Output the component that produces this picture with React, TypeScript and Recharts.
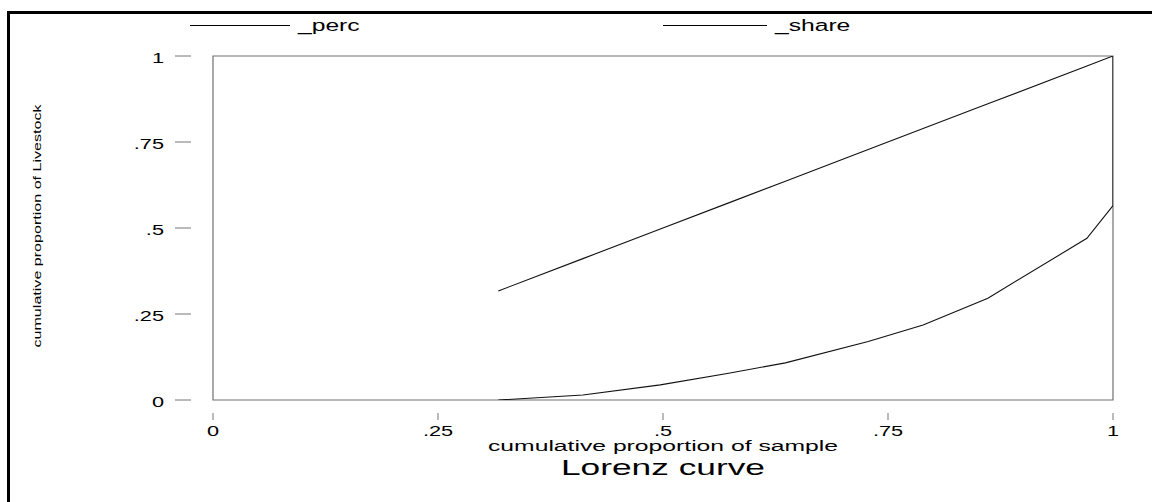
import React from 'react';
import { LineChart, Line, XAxis, YAxis, ReferenceArea, Legend, Label } from 'recharts';

// ---- data ----
const sampleProportion = [0.317, 0.411, 0.497, 0.573, 0.636, 0.728, 0.789, 0.861, 0.971, 1, 1];
const percValues = [0.317, 0.411, 0.497, 0.573, 0.636, 0.728, 0.789, 0.861, 0.971, 1, 1];
const shareValues = [0, 0.0145, 0.044, 0.078, 0.108, 0.17, 0.218, 0.296, 0.47, 0.565, 1];
const xTicks = [0, 0.25, 0.5, 0.75, 1];
const xTickLabels = ['0', '.25', '.5', '.75', '1'];
const yTicks = [0, 0.25, 0.5, 0.75, 1];
const yTickLabels = ['0', '.25', '.5', '.75', '1'];
const seriesKeys = ['_perc', '_share'];
const xTitle = 'cumulative proportion of sample';
const yTitle = 'cumulative proportion of Livestock';
const chartTitle = 'Lorenz curve';

const data = sampleProportion.map((x, i) => ({
  x,
  [seriesKeys[0]]: percValues[i],
  [seriesKeys[1]]: shareValues[i],
}));

const FONT = '"Liberation Sans", Arial, Helvetica, sans-serif';
const STRETCH = 1.45;

const XTick = (props: any) => {
  const { x, y, payload } = props;
  const idx = xTicks.indexOf(payload.value);
  return (
    <g>
      <line x1={x} x2={x} y1={y + 13} y2={y + 20} stroke="#777" strokeWidth={1} />
      <text
        x={0}
        y={0}
        transform={`translate(${x},${y + 36}) scale(${STRETCH},1)`}
        textAnchor="middle"
        fontFamily={FONT}
        fontSize={15}
        fill="#000"
      >
        {xTickLabels[idx]}
      </text>
    </g>
  );
};

const YTick = (props: any) => {
  const { x, y, payload } = props;
  const idx = yTicks.indexOf(payload.value);
  return (
    <g>
      <line x1={x - 38} x2={x - 22} y1={y} y2={y} stroke="#777" strokeWidth={1} />
      <text
        x={0}
        y={0}
        transform={`translate(${x - 49},${y + 7}) scale(${STRETCH},1)`}
        textAnchor="end"
        fontFamily={FONT}
        fontSize={15}
        fill="#000"
      >
        {yTickLabels[idx]}
      </text>
    </g>
  );
};

const legendSlots = [
  { lineX: 190, lineW: 100 },
  { lineX: 663, lineW: 104 },
];

const LegendContent = (props: any) => {
  const { payload } = props;
  return (
    <div style={{ position: 'relative', width: 0, height: 0 }}>
      <svg
        width={1152}
        height={50}
        style={{ position: 'absolute', left: 0, top: 0, overflow: 'visible' }}
      >
        {(payload || []).map((entry: any, i: number) => {
          const slot = legendSlots[i] || legendSlots[0];
          return (
            <g key={entry.value}>
              <line
                x1={slot.lineX}
                x2={slot.lineX + slot.lineW}
                y1={25.5}
                y2={25.5}
                stroke="#000"
                strokeWidth={1}
              />
              <text
                x={0}
                y={0}
                transform={`translate(${slot.lineX + slot.lineW + 8},31) scale(${STRETCH},1)`}
                fontFamily={FONT}
                fontSize={17}
                fill="#000"
              >
                {entry.value}
              </text>
            </g>
          );
        })}
      </svg>
    </div>
  );
};

const XTitles = (props: any) => {
  const { viewBox } = props;
  const cx = viewBox.x + viewBox.width / 2;
  const y = viewBox.y;
  return (
    <g>
      <text
        x={cx - 175}
        y={y + 51}
        textLength={350}
        lengthAdjust="spacingAndGlyphs"
        fontFamily={FONT}
        fontSize={14}
        fill="#000"
      >
        {xTitle}
      </text>
      <text
        x={cx - 102}
        y={y + 75}
        textLength={204}
        lengthAdjust="spacingAndGlyphs"
        fontFamily={FONT}
        fontSize={22}
        fill="#000"
      >
        {chartTitle}
      </text>
    </g>
  );
};

const YTitle = (props: any) => {
  const { viewBox } = props;
  const cx = viewBox.x + 41;
  const cy = viewBox.y + viewBox.height / 2 - 2;
  return (
    <g transform={`translate(${cx},${cy}) scale(0.52,1)`}>
      <text
        x={-121.5}
        y={0}
        transform="rotate(-90)"
        textLength={243}
        lengthAdjust="spacingAndGlyphs"
        fontFamily={FONT}
        fontSize={22}
        fill="#000"
      >
        {yTitle}
      </text>
    </g>
  );
};

export default function App() {
  return (
    <div
      style={{
        position: 'absolute',
        left: 0,
        top: 0,
        width: 1152,
        height: 502,
        overflow: 'hidden',
        background: '#fff',
      }}
    >
      <LineChart
        width={1152}
        height={502}
        data={data}
        margin={{ top: 56, right: 39, bottom: 62, left: 0 }}
      >
        <XAxis
          dataKey="x"
          type="number"
          domain={[0, 1]}
          ticks={xTicks}
          interval={0}
          axisLine={false}
          tickLine={false}
          tickSize={0}
          tickMargin={0}
          height={40}
          tick={<XTick />}
          allowDataOverflow
        >
          <Label content={<XTitles />} />
        </XAxis>
        <YAxis
          type="number"
          domain={[0, 1]}
          ticks={yTicks}
          interval={0}
          axisLine={false}
          tickLine={false}
          tickSize={0}
          tickMargin={0}
          width={213}
          tick={<YTick />}
          allowDataOverflow
        >
          <Label content={<YTitle />} />
        </YAxis>
        <ReferenceArea
          x1={0}
          x2={1}
          y1={0}
          y2={1}
          fill="none"
          stroke="#707070"
          strokeWidth={1.2}
          ifOverflow="visible"
        />
        <Legend
          verticalAlign="top"
          content={<LegendContent />}
          wrapperStyle={{ top: 0, left: 0, width: 0, height: 0 }}
        />
        <Line
          dataKey={seriesKeys[0]}
          type="linear"
          stroke="#111"
          strokeWidth={1.1}
          dot={false}
          isAnimationActive={false}
          legendType="line"
        />
        <Line
          dataKey={seriesKeys[1]}
          type="linear"
          stroke="#111"
          strokeWidth={1.1}
          dot={false}
          isAnimationActive={false}
          legendType="line"
        />
      </LineChart>
      <div
        style={{
          position: 'absolute',
          left: 7,
          top: 11,
          width: 1300,
          height: 700,
          border: '3px solid #000',
          pointerEvents: 'none',
        }}
      />
    </div>
  );
}
